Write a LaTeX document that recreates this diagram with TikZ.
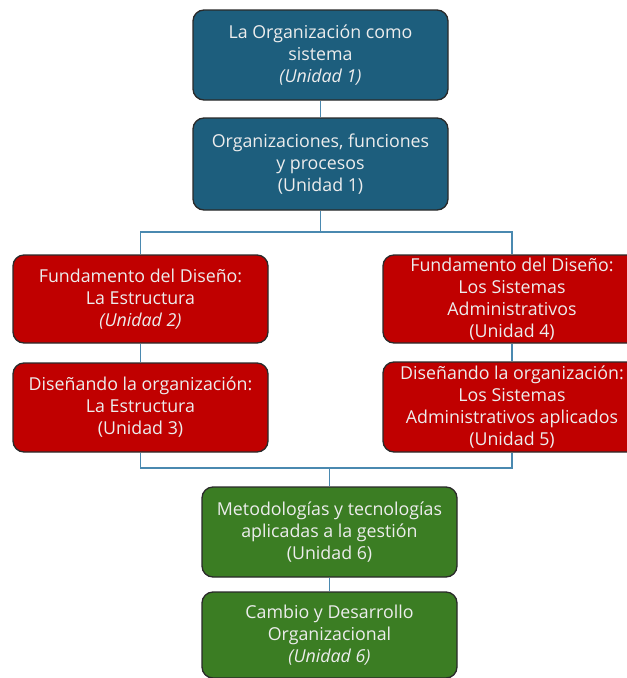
\documentclass[tikz,border=0pt]{standalone}
\usepackage{fontspec}
\setmainfont{Open Sans}
\definecolor{cblue}{HTML}{1D5E7D}
\definecolor{cred}{HTML}{C00000}
\definecolor{cgreen}{HTML}{3B7D23}
\definecolor{cline}{HTML}{4A89B0}
\definecolor{cedge}{HTML}{2A2A2A}
\begin{document}
\begin{tikzpicture}[x=1pt,y=-1pt,
  box/.style={draw=cedge, line width=1.3pt, rounded corners=11pt, text=white!93!black,
    minimum width=255pt, align=center, font=\fontsize{17.8}{22}\selectfont, inner sep=1pt},
  bluebox/.style={box, fill=cblue},
  redbox/.style={box, fill=cred},
  greenbox/.style={box, fill=cgreen},
  conn/.style={draw=cline, line width=1.4pt}]
\useasboundingbox (0,0) rectangle (627,678);
\clip (0,0) rectangle (627,678);
\fill[white] (0,0) rectangle (627,678);

\node[bluebox, minimum height=90pt] (T1) at (320.5,55) {La Organización como\\sistema\\\textit{(Unidad 1)}};
\node[bluebox, minimum height=92pt] (T2) at (320.5,164) {Organizaciones, funciones\\y procesos\\(Unidad 1)};
\node[redbox, minimum height=88pt] (L1) at (140.5,299) {Fundamento del Diseño:\\La Estructura\\\textit{(Unidad 2)}};
\node[redbox, minimum height=89pt] (L2) at (140.5,407.5) {Diseñando la organización:\\La Estructura\\(Unidad 3)};
\node[redbox, minimum height=88pt, minimum width=258pt] (R1) at (512,299) {Fundamento del Diseño:\\Los Sistemas\\Administrativos\\(Unidad 4)};
\node[redbox, minimum height=90pt, minimum width=258pt] (R2) at (512,407) {Diseñando la organización:\\Los Sistemas\\Administrativos aplicados\\(Unidad 5)};
\node[greenbox, minimum height=90pt] (G1) at (329.5,532) {Metodologías y tecnologías\\aplicadas a la gestión\\(Unidad 6)};
\node[greenbox, minimum height=86pt] (G2) at (329.5,635) {Cambio y Desarrollo\\Organizacional\\\textit{(Unidad 6)}};

\coordinate (h1) at (320.5,232);
\coordinate (h2) at (329.5,468);

\draw[conn] (T1.south) -- (T2.north);
\draw[conn] (T2.south) -- (h1);
\draw[conn] (L1.north) |- (h1) -| (R1.north);
\draw[conn] (L1.south) -- (L2.north);
\draw[conn] (R1.south) -- (R2.north);
\draw[conn] (L2.south) |- (h2) -| (R2.south);
\draw[conn] (h2) -- (G1.north);
\draw[conn] (G1.south) -- (G2.north);
\end{tikzpicture}
\end{document}
